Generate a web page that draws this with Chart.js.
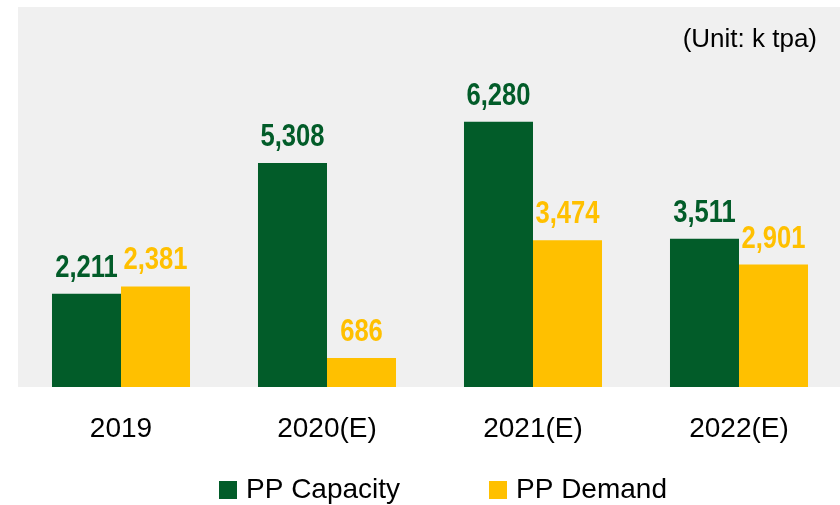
<!DOCTYPE html>
<html>
<head>
<meta charset="utf-8">
<script src="https://cdn.jsdelivr.net/npm/chart.js@4.4.1/dist/chart.umd.min.js"></script>
<style>
  html, body { margin: 0; padding: 0; background: #ffffff; overflow: hidden; }
  #wrap { position: relative; width: 842px; height: 505px; }
</style>
</head>
<body>
<div id="wrap"><canvas id="barChart"></canvas></div>
<script>
const years = ["2019", "2020(E)", "2021(E)", "2022(E)"];
const capacity = [2211, 5308, 6280, 3511];
const demand = [2381, 686, 3474, 2901];
const seriesNames = ["PP Capacity", "PP Demand"];
const unitText = "(Unit: k tpa)";

const green = "#025c29";
const yellow = "#ffc000";
const textFont = "'Liberation Sans', Arial, sans-serif";

// grey panel behind the bars + unit note + legend
const panel = {
    id: "panel",
    beforeDraw(chart) {
        const a = chart.chartArea;
        const ctx = chart.ctx;
        ctx.save();
        ctx.fillStyle = "#f0f0f0";
        ctx.fillRect(a.left, a.top, a.right - a.left, a.bottom - a.top);
        ctx.restore();
    },
    afterDraw(chart) {
        const ctx = chart.ctx;
        ctx.save();
        ctx.fillStyle = "#000000";
        ctx.font = "26px " + textFont;
        ctx.textAlign = "right";
        ctx.textBaseline = "middle";
        ctx.fillText(unitText, 817, 40);

        // legend
        ctx.font = "28px " + textFont;
        ctx.textAlign = "left";
        ctx.textBaseline = "alphabetic";
        const starts = [219, 489];
        chart.data.datasets.forEach((ds, i) => {
            ctx.fillStyle = ds.backgroundColor;
            ctx.fillRect(starts[i], 481, 18, 18);
            ctx.fillStyle = "#000000";
            ctx.fillText(ds.label, starts[i] + 27, 498);
        });
        ctx.restore();
    }
};

// value labels above bars (condensed bold, no narrow font installed so squeeze it)
const valueLabels = {
    id: "valueLabels",
    afterDatasetsDraw(chart) {
        const ctx = chart.ctx;
        const sx = 0.8;
        chart.data.datasets.forEach((ds, i) => {
            const meta = chart.getDatasetMeta(i);
            meta.data.forEach((bar, j) => {
                ctx.save();
                ctx.translate(bar.x, bar.y - 17);
                ctx.scale(sx, 1);
                ctx.font = "bold 32px " + textFont;
                ctx.textAlign = "center";
                ctx.textBaseline = "alphabetic";
                ctx.fillStyle = ds.backgroundColor;
                ctx.fillText(ds.data[j].toLocaleString("en-US"), 0, 0);
                ctx.restore();
            });
        });
    }
};

new Chart(document.getElementById("barChart"), {
    type: "bar",
    data: {
        labels: years,
        datasets: [
            {
                label: seriesNames[0],
                data: capacity,
                backgroundColor: green,
                categoryPercentage: 0.67,
                barPercentage: 1.0
            },
            {
                label: seriesNames[1],
                data: demand,
                backgroundColor: yellow,
                categoryPercentage: 0.67,
                barPercentage: 1.0
            }
        ]
    },
    options: {
        responsive: true,
        maintainAspectRatio: false,
        animation: false,
        layout: {
            padding: { left: 18, top: 7, right: 0, bottom: 0 }
        },
        scales: {
            x: {
                grid: { display: false, drawTicks: false },
                border: { display: false },
                ticks: {
                    color: "#000000",
                    padding: 25,
                    font: { family: textFont, size: 28 }
                },
                afterFit: s => { s.height = 118; }
            },
            y: {
                display: false,
                min: 0,
                max: 9000
            }
        },
        plugins: {
            legend: { display: false },
            tooltip: { enabled: false }
        }
    },
    plugins: [panel, valueLabels]
});
</script>
</body>
</html>
